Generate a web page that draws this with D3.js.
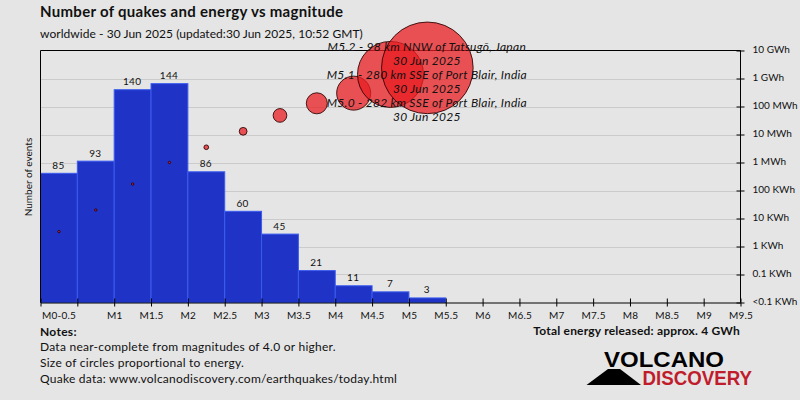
<!DOCTYPE html>
<html>
<head>
<meta charset="utf-8">
<script src="https://cdn.jsdelivr.net/npm/d3@7"></script>
<style>
html,body{margin:0;padding:0;background:#e5e5e5;}
svg{display:block;}
text{font-family:Lato,"Open Sans",sans-serif;fill:#111;}
</style>
</head>
<body>
<svg id="chart" width="800" height="400"></svg>
<script>
// values
var binStart=[0,0.5,1,1.5,2,2.5,3,3.5,4,4.5,5];
var counts=[85,93,140,144,86,60,45,21,11,7,3];
var energyKWh=[3.4,20,170,1000,3500,13000,48000,130000,300000,1400000,2400000];
var xTicks=[0,0.5,1,1.5,2,2.5,3,3.5,4,4.5,5,5.5,6,6.5,7,7.5,8,8.5,9,9.5];
var xLabels=["M0-0.5","","M1","M1.5","M2","M2.5","M3","M3.5","M4","M4.5","M5","M5.5","M6","M6.5","M7","M7.5","M8","M8.5","M9","M9.5"];
var energyTicks=[0.01,0.1,1,10,100,1000,10000,100000,1000000,10000000];
var energyLabels=["<0.1 KWh","0.1 KWh","1 KWh","10 KWh","100 KWh","1 MWh","10 MWh","100 MWh","1 GWh","10 GWh"];
var quakeNames=["M5.2 - 98 km NNW of Tatsugō, Japan","M5.1 - 280 km SSE of Port Blair, India","M5.0 - 282 km SSE of Port Blair, India"];
var quakeDate="30 Jun 2025";
var notes=["Data near-complete from magnitudes of 4.0 or higher.","Size of circles proportional to energy.","Quake data: www.volcanodiscovery.com/earthquakes/today.html"];

var svg=d3.select("#chart");
var left=40.5,right=740.5,top_=50.5,bottom=302.5;
var binW=0.5;

var x=d3.scaleLinear().domain([0,9.5]).range([left,right]);
var yCount=d3.scaleLinear().domain([0,165.8]).range([bottom,top_]);
var yEnergy=d3.scaleLog().domain([0.01,10000000]).range([bottom,top_]);
// circles get bigger with energy, breakpoints fitted by eye
var rEnergy=d3.scaleLog().domain([1000,10000,100000,300000,1400000,2400000]).range([1.2,3.3,8.5,17,33,45.8]).clamp(true);

// grid lines
svg.append("g").selectAll("line").data(energyTicks.slice(1,-1)).enter().append("line")
  .attr("x1",left).attr("x2",right)
  .attr("y1",function(d){return Math.round(yEnergy(d))+0.5;})
  .attr("y2",function(d){return Math.round(yEnergy(d))+0.5;})
  .attr("stroke","#cbcbcb").attr("stroke-width",1);

// bars
svg.append("g").selectAll("rect").data(counts).enter().append("rect")
  .attr("x",function(d,i){return x(binStart[i]);})
  .attr("width",function(d,i){return x(binStart[i]+binW)-x(binStart[i]);})
  .attr("y",function(d){return yCount(d);})
  .attr("height",function(d){return bottom-yCount(d);})
  .attr("fill","#1f33c6").attr("stroke","#3b5cf0").attr("stroke-width",1);

// bar labels
svg.append("g").selectAll("text").data(counts).enter().append("text")
  .attr("x",function(d,i){return x(binStart[i]+binW/2)-0.5;})
  .attr("y",function(d){return yCount(d)-4.5;})
  .attr("text-anchor","middle").attr("font-size",10).attr("letter-spacing",0.3)
  .text(function(d){return d;});

// frame
svg.append("path").attr("fill","none").attr("stroke","#000").attr("stroke-width",1)
  .attr("d","M"+left+","+bottom+"V"+top_+"H"+right+"V"+bottom);

// x axis
var xAxis=d3.axisBottom(x).tickValues(xTicks).tickSize(4).tickSizeOuter(0)
  .tickFormat(function(d,i){return xLabels[i];});
var gx=svg.append("g").attr("transform","translate(0,"+bottom+")").call(xAxis);
gx.select(".domain").attr("stroke","#000");
gx.selectAll(".tick line").attr("y1",-4).attr("stroke","#000");
gx.selectAll(".tick text").attr("y",9).attr("font-size",10).attr("letter-spacing",0.2)
  .attr("font-family",null).attr("fill","#111");
// first label is for the whole bin
gx.select(".tick text").attr("dx",18);

// energy axis
var eAxis=d3.axisRight(yEnergy).tickValues(energyTicks).tickSize(4).tickSizeOuter(0)
  .tickFormat(function(d,i){return energyLabels[i];});
var ge=svg.append("g").attr("transform","translate("+right+",0)").call(eAxis);
ge.select(".domain").remove();
ge.selectAll(".tick line").attr("x1",-4).attr("stroke","#000");
ge.selectAll(".tick text").attr("x",12).attr("dy","0.2em").attr("font-size",10)
  .attr("font-family",null).attr("fill","#111");

// energy circles
svg.append("g").selectAll("circle").data(energyKWh).enter().append("circle")
  .attr("cx",function(d,i){return x(binStart[i]+binW/2);})
  .attr("cy",function(d){return yEnergy(d);})
  .attr("r",function(d){return rEnergy(d);})
  .attr("fill","rgba(232,30,34,0.75)").attr("stroke","rgba(40,0,0,0.85)").attr("stroke-width",1);

// strongest quake labels
var labelX=x(5.25)-0.5;
quakeNames.forEach(function(name,i){
  svg.append("text").attr("x",labelX).attr("y",51+i*28).attr("text-anchor","middle")
    .attr("font-size",12).attr("font-style","italic").attr("letter-spacing",0.3).text(name);
  svg.append("text").attr("x",labelX).attr("y",65+i*28).attr("text-anchor","middle")
    .attr("font-size",12).attr("font-style","italic").attr("letter-spacing",0.3).text(quakeDate);
});

// titles
svg.append("text").attr("x",40).attr("y",17).attr("font-size",15).attr("font-weight","bold").attr("letter-spacing",0.3)
  .text("Number of quakes and energy vs magnitude");
svg.append("text").attr("x",40).attr("y",38).attr("font-size",12).attr("letter-spacing",0.05)
  .text("worldwide - 30 Jun 2025 (updated:30 Jun 2025, 10:52 GMT)");
svg.append("text").attr("transform","translate(32,177) rotate(-90)").attr("text-anchor","middle")
  .attr("font-size",10).text("Number of events");

// notes
svg.append("text").attr("x",40).attr("y",336).attr("font-size",12).attr("font-weight","bold").attr("letter-spacing",0.3).text("Notes:");
svg.append("g").selectAll("text").data(notes).enter().append("text")
  .attr("x",40).attr("y",function(d,i){return 351+i*16;})
  .attr("font-size",12).attr("letter-spacing",0.25).text(function(d){return d;});
svg.append("text").attr("x",740).attr("y",335).attr("text-anchor","end").attr("font-size",12).attr("font-weight","bold").attr("letter-spacing",0.2)
  .text("Total energy released: approx. 4 GWh");

// logo
svg.append("path").attr("d","M586.5,385L608,369H620L641,385Z").attr("fill","#000");
svg.append("text").attr("x",604).attr("y",367).attr("font-size",22.5).attr("font-weight","bold")
  .attr("textLength",120).attr("lengthAdjust","spacingAndGlyphs")
  .style("font-family","'Liberation Sans'").style("fill","#000").text("VOLCANO");
svg.append("text").attr("x",642.5).attr("y",385).attr("font-size",20.5).attr("font-weight","bold")
  .attr("textLength",109.5).attr("lengthAdjust","spacingAndGlyphs")
  .style("font-family","'Liberation Sans'").style("fill","#c01c2c").text("DISCOVERY");
</script>
</body>
</html>
